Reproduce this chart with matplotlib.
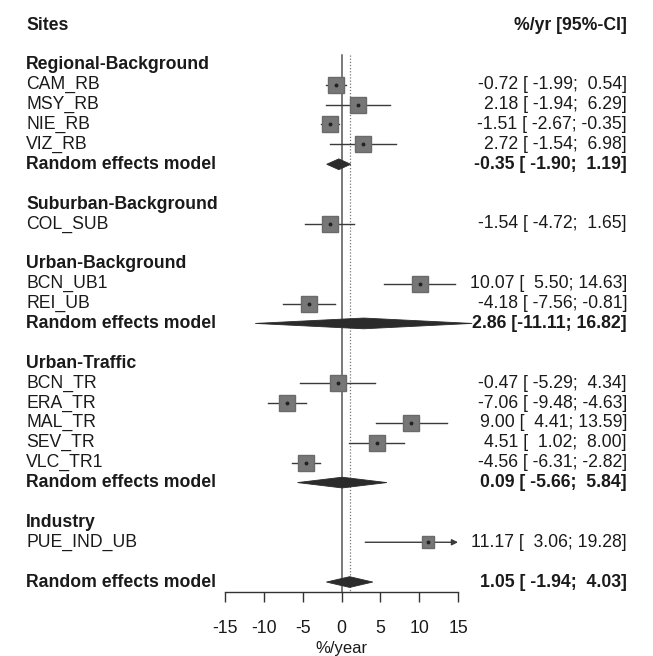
import matplotlib.pyplot as plt
import matplotlib.transforms as mtransforms
from matplotlib.patches import Polygon

plt.rcParams["font.family"] = ["Liberation Sans", "DejaVu Sans"]

# Site-level trends (%/yr) with 95% confidence limits
groups = ["Regional-Background", "Suburban-Background", "Urban-Background",
          "Urban-Traffic", "Industry"]
sites = [
    ["CAM_RB", "MSY_RB", "NIE_RB", "VIZ_RB"],
    ["COL_SUB"],
    ["BCN_UB1", "REI_UB"],
    ["BCN_TR", "ERA_TR", "MAL_TR", "SEV_TR", "VLC_TR1"],
    ["PUE_IND_UB"],
]
site_est = [[-0.72, 2.18, -1.51, 2.72], [-1.54], [10.07, -4.18],
            [-0.47, -7.06, 9.00, 4.51, -4.56], [11.17]]
site_lo = [[-1.99, -1.94, -2.67, -1.54], [-4.72], [5.50, -7.56],
           [-5.29, -9.48, 4.41, 1.02, -6.31], [3.06]]
site_hi = [[0.54, 6.29, -0.35, 6.98], [1.65], [14.63, -0.81],
           [4.34, -4.63, 13.59, 8.00, -2.82], [19.28]]

# Random effects pooled estimates per group (None where a group has one site)
group_est = [-0.35, None, 2.86, 0.09, None]
group_lo = [-1.90, None, -11.11, -5.66, None]
group_hi = [1.19, None, 16.82, 5.84, None]

overall_est, overall_lo, overall_hi = 1.05, -1.94, 4.03

x_ticks = [-15, -10, -5, 0, 5, 10, 15]


def ci_label(est, lo, hi):
    return f"{est:.2f} [{lo:6.2f}; {hi:5.2f}]"


fig = plt.figure(figsize=(6.53, 6.56), dpi=100)
ax = fig.add_axes([225 / 653, 64 / 656, 233 / 653, 567 / 656])
ax.set_xlim(-15, 15)
ax.set_ylim(26.5, -2)

text_tf = mtransforms.blended_transform_factory(fig.transFigure, ax.transData)
x_left = 26 / 653
x_right = 627 / 653
fs = 12.7
ink = "#1a1a1a"


def left_text(y, s, bold=False):
    ax.text(x_left, y, s, transform=text_tf, ha="left", va="center",
            fontsize=fs, color=ink, fontweight="bold" if bold else "normal")


def right_text(y, s, bold=False):
    ax.text(x_right, y, s, transform=text_tf, ha="right", va="center",
            fontsize=fs, color=ink, fontweight="bold" if bold else "normal")


def diamond(y, est, lo, hi, half=0.27):
    ax.add_patch(Polygon([(lo, y), (est, y - half), (hi, y), (est, y + half)],
                         closed=True, facecolor="#2b2b2b", edgecolor="#2b2b2b",
                         lw=0.6, zorder=4, clip_on=False))


left_text(-2, "Sites", bold=True)
right_text(-2, "%/yr [95%-CI]", bold=True)

row = 0
for g, name in enumerate(groups):
    left_text(row, name, bold=True)
    row += 1
    for s, site in enumerate(sites[g]):
        est, lo, hi = site_est[g][s], site_lo[g][s], site_hi[g][s]
        left_text(row, site)
        right_text(row, ci_label(est, lo, hi))
        if hi > 15:
            ax.annotate("", xy=(15, row), xytext=(lo, row),
                        arrowprops=dict(arrowstyle="-|>", color="#3a3a3a",
                                        lw=1.0, mutation_scale=9,
                                        shrinkA=0, shrinkB=0), zorder=2)
        else:
            ax.plot([lo, hi], [row, row], color="#3a3a3a", lw=1.0, zorder=2)
        size = 12 if hi - lo < 12 else 9
        ax.plot(est, row, marker="s", ms=size, color="#777777",
                mec="#6a6a6a", zorder=3)
        ax.plot(est, row, marker="o", ms=1.8, color="#222222", zorder=4)
        row += 1
    if group_est[g] is not None:
        left_text(row, "Random effects model", bold=True)
        right_text(row, ci_label(group_est[g], group_lo[g], group_hi[g]),
                   bold=True)
        diamond(row, group_est[g], group_lo[g], group_hi[g])
        row += 1
    row += 1

left_text(row, "Random effects model", bold=True)
right_text(row, ci_label(overall_est, overall_lo, overall_hi), bold=True)
diamond(row, overall_est, overall_lo, overall_hi)

# reference line at zero and dotted line at the pooled estimate
ax.plot([0, 0], [-0.5, 26.5], color="#555555", lw=1.1, zorder=1)
ax.plot([overall_est, overall_est], [-0.5, 26.5], color="#777777", lw=0.9,
        ls=(0, (1, 1.5)), zorder=1)

for side in ["top", "right", "left"]:
    ax.spines[side].set_visible(False)
ax.spines["bottom"].set_bounds(-15, 15)
ax.spines["bottom"].set_color("#333333")
ax.spines["bottom"].set_linewidth(1.0)
ax.set_yticks([])
ax.set_xticks(x_ticks)
ax.set_xticklabels([str(t) for t in x_ticks])
ax.tick_params(axis="x", direction="out", length=7, width=1.0,
               color="#333333", labelsize=fs, labelcolor=ink, pad=13)
ax.set_xlabel("%/year", fontsize=12, color=ink, labelpad=3)
ax.patch.set_visible(False)

fig.savefig("out.png", dpi=100)
